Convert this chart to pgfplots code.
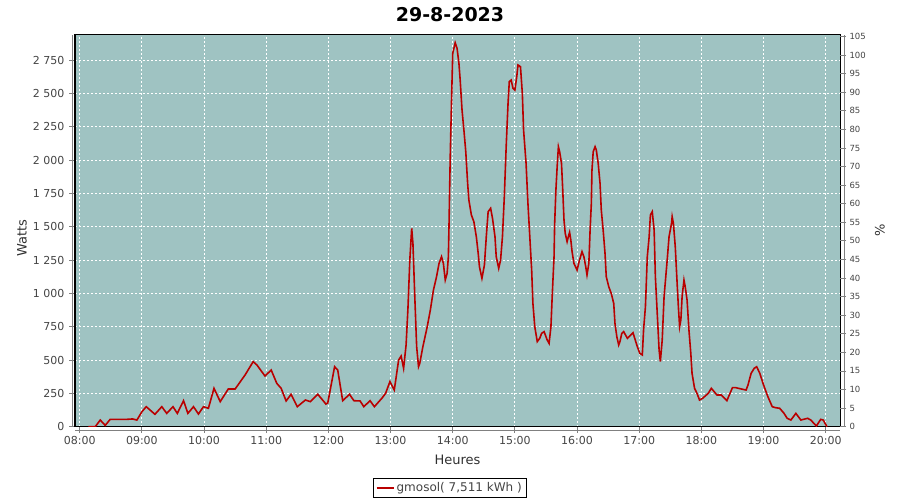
\documentclass[border=0pt]{standalone}
\usepackage{fontspec}
\setmainfont{DejaVu Sans}
\usepackage{pgfplots}
\pgfplotsset{compat=1.18}
\definecolor{bg}{RGB}{159,195,194}
\definecolor{ln}{RGB}{185,0,0}
\definecolor{tk}{RGB}{68,68,68}
\pgfplotstableread{
h W
8.14 0
8.25 0
8.33 50
8.41 10
8.49 55
8.60 55
8.75 55
8.85 58
8.92 50
9.00 112
9.07 150
9.21 93
9.32 150
9.40 100
9.50 150
9.57 100
9.67 195
9.74 100
9.83 150
9.91 95
9.99 150
10.07 138
10.16 288
10.26 188
10.39 283
10.50 283
10.66 388
10.79 488
10.85 463
10.98 380
11.08 425
11.17 325
11.24 288
11.32 193
11.40 243
11.50 150
11.63 200
11.71 188
11.83 243
11.96 170
11.99 178
12.10 450
12.15 425
12.23 195
12.34 243
12.41 195
12.51 193
12.57 150
12.67 195
12.74 150
12.86 213
12.92 250
12.99 338
13.06 275
13.13 500
13.17 530
13.21 438
13.25 613
13.28 888
13.31 1250
13.34 1488
13.36 1375
13.39 975
13.42 600
13.45 450
13.47 475
13.52 600
13.59 750
13.64 875
13.69 1025
13.74 1125
13.78 1225
13.82 1275
13.85 1225
13.88 1100
13.91 1150
13.93 1275
13.94 1500
13.96 2025
13.98 2425
14.00 2800
14.04 2880
14.07 2838
14.10 2725
14.12 2600
14.15 2375
14.18 2225
14.21 2063
14.24 1825
14.26 1700
14.30 1588
14.34 1538
14.38 1425
14.41 1300
14.43 1200
14.47 1113
14.51 1213
14.54 1425
14.57 1613
14.61 1638
14.64 1563
14.68 1425
14.70 1275
14.74 1188
14.77 1250
14.80 1425
14.83 1725
14.86 2100
14.89 2425
14.91 2588
14.94 2600
14.97 2538
15.00 2525
15.03 2625
15.05 2713
15.09 2700
15.12 2500
15.14 2225
15.18 1975
15.21 1675
15.24 1425
15.27 1175
15.29 925
15.32 750
15.36 638
15.40 663
15.43 700
15.47 713
15.50 675
15.52 650
15.55 625
15.58 750
15.60 975
15.63 1275
15.64 1525
15.66 1775
15.68 1950
15.70 2100
15.72 2063
15.75 1975
15.77 1775
15.79 1550
15.81 1450
15.84 1388
15.86 1425
15.88 1458
15.90 1400
15.92 1313
15.95 1225
16.00 1175
16.04 1250
16.08 1313
16.11 1275
16.14 1200
16.16 1138
16.19 1225
16.21 1475
16.23 1675
16.24 1925
16.26 2063
16.29 2100
16.31 2075
16.34 1975
16.37 1825
16.39 1625
16.42 1475
16.45 1300
16.47 1125
16.51 1050
16.55 1000
16.59 925
16.61 775
16.64 675
16.67 613
16.69 638
16.72 700
16.75 713
16.81 663
16.90 705
16.97 600
17.01 550
17.05 538
17.07 725
17.10 900
17.13 1275
17.16 1425
17.18 1588
17.21 1613
17.24 1475
17.26 1125
17.29 850
17.32 575
17.34 488
17.37 650
17.40 975
17.45 1250
17.48 1425
17.52 1525
17.53 1575
17.55 1525
17.58 1350
17.61 1075
17.63 900
17.65 750
17.67 800
17.69 975
17.72 1100
17.74 1050
17.77 950
17.80 725
17.83 550
17.85 400
17.89 288
17.93 250
17.97 200
18.02 213
18.11 250
18.16 288
18.25 238
18.32 238
18.41 195
18.50 293
18.55 293
18.64 283
18.72 275
18.75 313
18.80 400
18.85 438
18.89 450
18.94 400
19.00 313
19.07 225
19.14 150
19.19 143
19.26 138
19.33 100
19.38 63
19.44 50
19.52 100
19.60 50
19.71 63
19.76 50
19.85 5
19.92 55
19.96 50
20.02 0
}\datatable

\begin{document}
\begin{tikzpicture}[x=1pt,y=1pt]
\path[use as bounding box] (0,0) rectangle (900,500);
\node[font=\bfseries\fontsize{19}{19}\selectfont] at (450,485) {29-8-2023};
\begin{axis}[
  at={(75pt,73.3pt)}, anchor=south west, scale only axis,
  width=765pt, height=391.7pt,
  xmin=7.924, xmax=20.23, ymin=0, ymax=2938,
  axis background/.style={fill=bg},
  grid=major,
  major grid style={white, dash pattern=on 2pt off 2pt, line width=0.8pt},
  axis line style={black, line width=1pt},
  xtick={8,...,20},
  xticklabels={08:00,09:00,10:00,11:00,12:00,13:00,14:00,15:00,16:00,17:00,18:00,19:00,20:00},
  ytick={0,250,...,2750},
  yticklabels={0,250,500,750,1 000,1 250,1 500,1 750,2 000,2 250,2 500,2 750},
  tick align=outside,
  xtick pos=bottom, ytick pos=left,
  major tick length=6pt,
  tick style={gray, line width=0.8pt},
  ticklabel style={font=\fontsize{11}{11}\selectfont, text=tk},
  yticklabel style={xshift=-1pt},
  xlabel={Heures}, ylabel={Watts},
  label style={font=\fontsize{13}{13}\selectfont, text=tk!70!black},
  xlabel style={at={(axis description cs:0.5,-0.085)}, anchor=center},
  ylabel style={at={(axis description cs:-0.0693,0.482)}, anchor=center},
  legend style={at={(0.49,-0.1565)}, anchor=center, draw=black, line width=0.8pt,
    font=\fontsize{12}{12}\selectfont, text=tk, inner xsep=3pt, inner ysep=2pt},
  legend cell align=left,
]
\addplot[ln, line width=1.6pt, mark=none] table[x=h, y=W] {\datatable};
\addlegendentry{gmosol( 7,511 kWh )}
\end{axis}
\begin{axis}[
  at={(75pt,73.3pt)}, anchor=south west, scale only axis,
  width=765pt, height=391.7pt,
  xmin=7.924, xmax=20.23, ymin=0, ymax=105.4,
  axis y line*=right, axis x line=none,
  axis line style={draw=none},
  ytick={0,5,...,105},
  tick align=outside, major tick length=6pt,
  tick style={gray, line width=0.8pt},
  ticklabel style={font=\fontsize{8.5}{8.5}\selectfont, text=tk},
  /pgf/number format/assume math mode=true,
  ylabel={\%},
  ylabel style={at={(axis description cs:1.052,0.502)}, anchor=center, font=\fontsize{13}{13}\selectfont, text=tk!70!black},
]
\end{axis}
\draw[gray, line width=0.8pt] (72,73.3) -- (72,465);
\draw[gray, line width=0.8pt] (75,70) -- (840,70);
\draw[gray, line width=0.8pt] (844,73.3) -- (844,465);
\end{tikzpicture}
\end{document}
